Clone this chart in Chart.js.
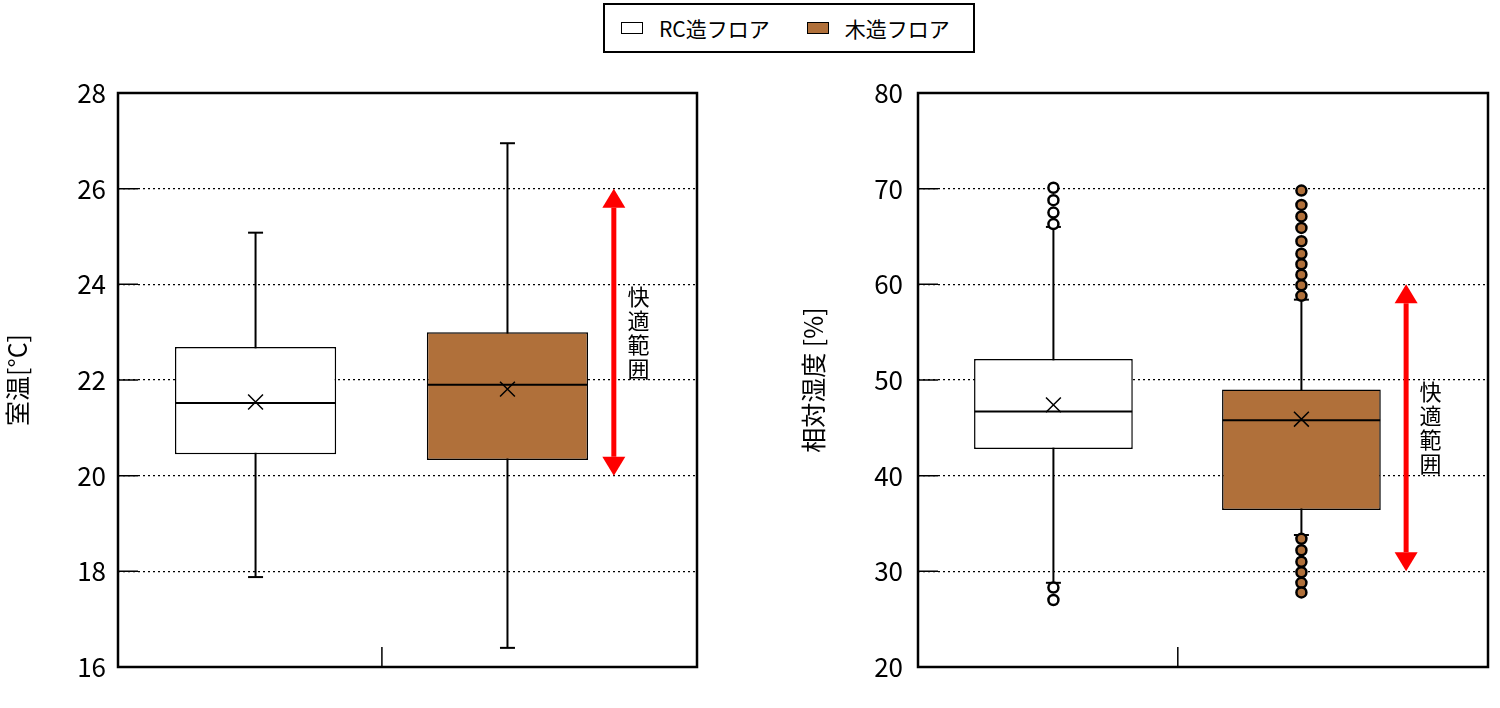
<!DOCTYPE html>
<html>
<head>
<meta charset="utf-8">
<script src="https://cdn.jsdelivr.net/npm/chart.js@4.4.1/dist/chart.umd.min.js"></script>
<style>
  html, body { margin: 0; padding: 0; overflow: hidden; }
  body { background: #fff; width: 1500px; height: 708px; position: relative;
         font-family: "Noto Sans CJK JP", "Noto Sans", sans-serif; }
  #temp-chart { position: absolute; left: 0; top: 0; }
  #hum-chart { position: absolute; left: 796px; top: 0; }
  #legend { position: absolute; left: 603px; top: 3px; width: 352px; height: 46px; border: 2px solid #000;
            padding-left: 16px; display: flex; align-items: center; gap: 37px; font-size: 21px; color: #000; }
  .item { display: flex; align-items: center; }
  .sw { width: 20px; height: 10px; border: 1.5px solid #000; margin-right: 16px; }
</style>
</head>
<body>
<div id="legend"></div>
<canvas id="temp-chart" width="720" height="708"></canvas>
<canvas id="hum-chart" width="704" height="708"></canvas>
<script>
const groups = ['RC造フロア', '木造フロア']
const groupColors = ['#ffffff', '#b0703a']

// 室温
const tempLow = [17.88, 16.4]
const tempQ1 = [20.45, 20.33]
const tempMedian = [21.52, 21.9]
const tempMean = [21.54, 21.81]
const tempQ3 = [22.69, 23.0]
const tempHigh = [25.08, 26.95]
const tempOutliers = [[], []]
const tempComfort = [20, 26]

// 相対湿度
const humLow = [28.8, 33.8]
const humQ1 = [42.8, 36.4]
const humMedian = [46.7, 45.8]
const humMean = [47.4, 45.9]
const humQ3 = [52.2, 49.0]
const humHigh = [66.0, 58.4]
const humOutliers = [
  [70.1, 68.8, 67.5, 66.3, 28.3, 27.0],
  [69.8, 68.3, 67.1, 65.9, 64.5, 63.2, 62.1, 61.0, 59.9, 58.8, 33.4, 32.2, 31.0, 29.9, 28.8, 27.8]
]
const humComfort = [30, 60]
const comfortLabel = '快適範囲'

// x layout (one box is one unit wide)
const xMax = 3.62
const xPos = [0.86, 2.435]
const xTick = 1.65
const arrowX = 3.10
const labelX = 3.255

Chart.defaults.font.family = '"Noto Sans CJK JP", "Noto Sans", sans-serif'
Chart.defaults.color = '#000'

// legend
const legend = document.getElementById('legend')
groups.forEach((g, i) => {
  const item = document.createElement('div')
  item.className = 'item'
  item.innerHTML = '<div class="sw" style="background:' + groupColors[i] + '"></div><span>' + g + '</span>'
  legend.appendChild(item)
})

const framePlugin = {
  id: 'frame',
  afterDatasetsDraw(chart) {
    const {ctx, chartArea: a, scales: {x, y}} = chart
    ctx.save()
    ctx.strokeStyle = '#000'
    ctx.lineWidth = 1.5
    ctx.beginPath()
    y.ticks.forEach(t => {
      const py = y.getPixelForValue(t.value)
      ctx.moveTo(a.left, py)
      ctx.lineTo(a.left + 20, py)
    })
    x.ticks.forEach(t => {
      const px = x.getPixelForValue(t.value)
      ctx.moveTo(px, a.bottom)
      ctx.lineTo(px, a.bottom - 20)
    })
    ctx.stroke()
    ctx.lineWidth = 2.5
    ctx.strokeRect(a.left, a.top, a.width, a.height)
    ctx.restore()
  }
}

function comfortPlugin(range) {
  return {
    id: 'comfort',
    afterDatasetsDraw(chart) {
      const {ctx, scales: {x, y}} = chart
      const px = x.getPixelForValue(arrowX)
      const top = y.getPixelForValue(range[1])
      const bot = y.getPixelForValue(range[0])
      const hw = 11.5, hh = 19
      ctx.save()
      ctx.fillStyle = '#ff0000'
      ctx.strokeStyle = '#ff0000'
      ctx.lineWidth = 5
      ctx.beginPath()
      ctx.moveTo(px, top + hh)
      ctx.lineTo(px, bot - hh)
      ctx.stroke()
      ctx.beginPath()
      ctx.moveTo(px, top)
      ctx.lineTo(px - hw, top + hh)
      ctx.lineTo(px + hw, top + hh)
      ctx.closePath()
      ctx.fill()
      ctx.beginPath()
      ctx.moveTo(px, bot)
      ctx.lineTo(px - hw, bot - hh)
      ctx.lineTo(px + hw, bot - hh)
      ctx.closePath()
      ctx.fill()

      ctx.fillStyle = '#000'
      ctx.font = '22px "Noto Sans CJK JP"'
      ctx.textAlign = 'center'
      ctx.textBaseline = 'middle'
      const tx = x.getPixelForValue(labelX)
      const chars = [...comfortLabel]
      const cy = (top + bot) / 2
      chars.forEach((c, i) => ctx.fillText(c, tx, cy + (i - (chars.length - 1) / 2) * 24))
      ctx.restore()
    }
  }
}

function makeChart(id, s) {
  const datasets = []
  groups.forEach((g, i) => {
    const x = xPos[i]
    datasets.push({
      type: 'scatter', data: [{x: x, y: s.mean[i]}],
      pointStyle: 'crossRot', pointRadius: 10.5, borderColor: '#000', borderWidth: 1.5, order: 0
    })
    datasets.push({
      type: 'scatter', data: s.outliers[i].map(v => ({x: x, y: v})),
      pointStyle: 'circle', pointRadius: 5, borderWidth: 2.5, borderColor: '#000',
      backgroundColor: groupColors[i], order: 0
    })
    datasets.push({
      type: 'line', data: [{x: x - 0.5, y: s.median[i]}, {x: x + 0.5, y: s.median[i]}],
      borderColor: '#000', borderWidth: 2, pointRadius: 0, order: 1
    })
    datasets.push({
      type: 'bar', label: g, data: [{x: x, y: [s.q1[i], s.q3[i]]}],
      backgroundColor: groupColors[i], borderColor: '#000', borderWidth: 1.5,
      borderSkipped: false, grouped: false, barPercentage: 0.8, categoryPercentage: 0.8, order: 2
    })
    datasets.push({
      type: 'line', data: [{x: x, y: s.low[i]}, {x: x, y: s.high[i]}],
      borderColor: '#000', borderWidth: 2, pointStyle: 'line', pointRadius: 7.5,
      pointBorderWidth: 2, pointBorderColor: '#000', order: 3
    })
  })

  new Chart(document.getElementById(id), {
    type: 'bar',
    data: { datasets: datasets },
    plugins: [framePlugin, comfortPlugin(s.comfort)],
    options: {
      animation: false,
      responsive: false,
      devicePixelRatio: 1,
      events: [],
      layout: { padding: { top: 93, bottom: 41, left: 0, right: s.padRight } },
      plugins: {
        legend: { display: false },
        tooltip: { enabled: false }
      },
      scales: {
        x: {
          type: 'linear', min: 0, max: xMax, offset: false,
          ticks: { display: false },
          grid: { display: false, offset: false },
          border: { display: false },
          afterBuildTicks(axis) { axis.ticks = [{value: xTick}] },
          afterFit(axis) { axis.height = 0 }
        },
        y: {
          min: s.min, max: s.max,
          ticks: { stepSize: s.step, font: { size: 26 }, color: '#000', padding: s.tickPad },
          grid: { color: '#000', lineWidth: 1.3, drawTicks: false },
          border: { display: false, dash: [2, 3] },
          title: { display: true, text: s.title, font: { size: 25 }, color: '#000', padding: { top: 2, bottom: 0 } },
          afterFit(axis) { axis.width = s.axisWidth }
        }
      }
    }
  })
}

makeChart('temp-chart', {
  low: tempLow, q1: tempQ1, median: tempMedian, mean: tempMean, q3: tempQ3, high: tempHigh,
  outliers: tempOutliers, comfort: tempComfort,
  min: 16, max: 28, step: 2, title: '室温[°C]',
  axisWidth: 118, tickPad: 12, padRight: 23
})

makeChart('hum-chart', {
  low: humLow, q1: humQ1, median: humMedian, mean: humMean, q3: humQ3, high: humHigh,
  outliers: humOutliers, comfort: humComfort,
  min: 20, max: 80, step: 10, title: '相対湿度 [%]',
  axisWidth: 122, tickPad: 15, padRight: 3
})
</script>
</body>
</html>
